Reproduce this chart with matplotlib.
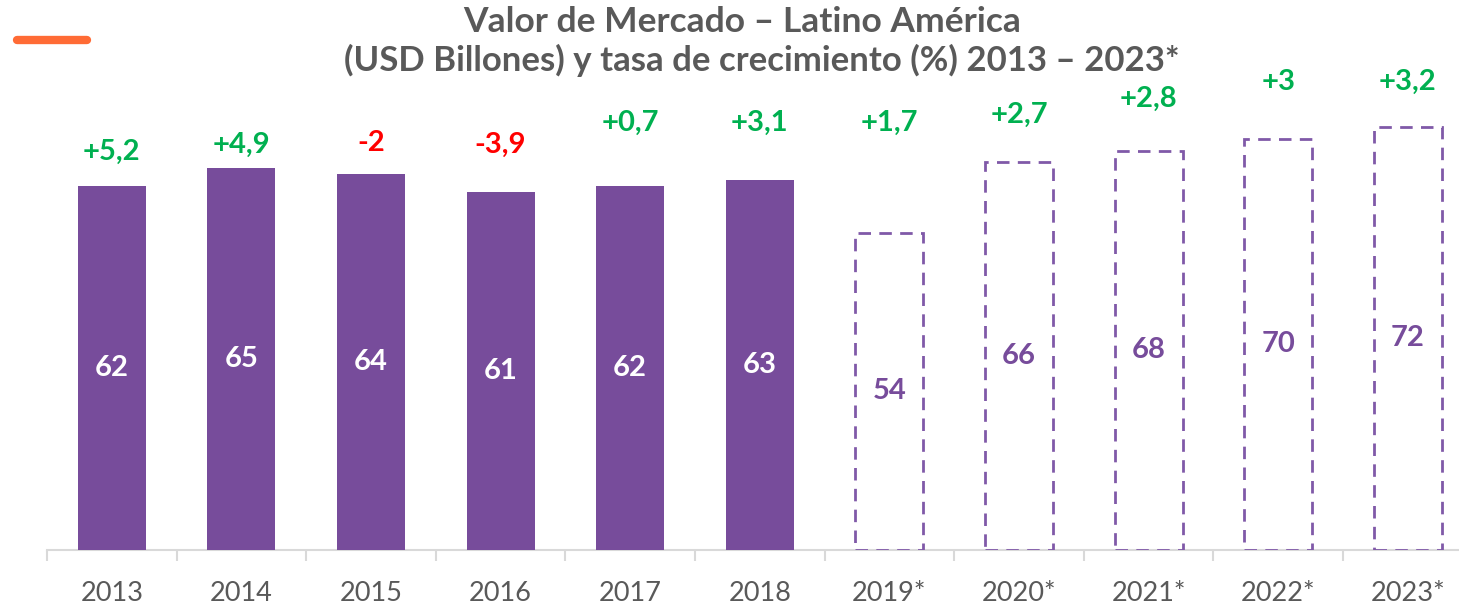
import numpy as np
import matplotlib.pyplot as plt
from matplotlib.lines import Line2D

# data
years = ['2013', '2014', '2015', '2016', '2017', '2018',
         '2019*', '2020*', '2021*', '2022*', '2023*']
market_value = [62, 65, 64, 61, 62, 63, 54, 66, 68, 70, 72]
growth = ['+5,2', '+4,9', '-2', '-3,9', '+0,7', '+3,1',
          '+1,7', '+2,7', '+2,8', '+3', '+3,2']
growth_pos = [67.7, 68.9, 69.3, 68.9, 72.7, 72.7, 72.7, 74.0, 76.8, 79.7, 79.7]
forecast = [False] * 6 + [True] * 5

PURPLE = '#774C9B'
GREEN = '#00B050'
RED = '#FF0000'
GREY = '#595959'
FONT = 'Lato'

fig = plt.figure(figsize=(14.59, 6.04), dpi=100)
ax = fig.add_axes([47 / 1459, 54 / 604, 1425.6 / 1459, 528.75 / 604])

x = np.arange(len(years))
w = 0.525
for i, (v, f) in enumerate(zip(market_value, forecast)):
    if f:
        ax.bar(x[i], v, width=w, facecolor='none', edgecolor='#8059A8',
               linewidth=2, linestyle=(0, (4.5, 3)), zorder=3)
        txt_color = PURPLE
    else:
        ax.bar(x[i], v, width=w, color=PURPLE, zorder=3)
        txt_color = 'white'
    ax.text(x[i], v / 2, str(v), ha='center', va='center', color=txt_color,
            fontsize=21, fontweight='bold', family=FONT, zorder=5)
    g = growth[i]
    ax.text(x[i], growth_pos[i], g, ha='center', va='center',
            color=RED if g.startswith('-') else GREEN,
            fontsize=21, fontweight='bold', family=FONT, zorder=5)

ax.set_xlim(-0.5, len(years) - 0.5)
ax.set_ylim(0, 90)
ax.set_yticks([])
for s in ['top', 'right', 'left']:
    ax.spines[s].set_visible(False)
ax.spines['bottom'].set_color('#D9D9D9')
ax.spines['bottom'].set_linewidth(1.5)
ax.spines['bottom'].set_zorder(2)

ax.set_xticks(x)
ax.set_xticklabels(years, fontsize=19.5, color=GREY, family=FONT)
ax.tick_params(axis='x', which='major', length=0, pad=22)
ax.set_xticks(np.arange(-0.5, len(years), 1), minor=True)
ax.tick_params(axis='x', which='minor', length=8, width=1.5, color='#D9D9D9')

fig.text(0.5086, 0.963, 'Valor de Mercado – Latino América',
         ha='center', va='center', fontsize=25.5, fontweight='bold',
         color=GREY, family=FONT)
fig.text(0.522, 0.9, '(USD Billones) y tasa de crecimiento (%) 2013 – 2023*',
         ha='center', va='center', fontsize=25, fontweight='bold',
         color=GREY, family=FONT)

# orange accent line top-left
fig.add_artist(Line2D([17 / 1459, 87 / 1459], [1 - 40 / 604, 1 - 40 / 604],
                      color='#FF6B35', linewidth=6, solid_capstyle='round',
                      transform=fig.transFigure))

fig.savefig('out.png', dpi=100)
